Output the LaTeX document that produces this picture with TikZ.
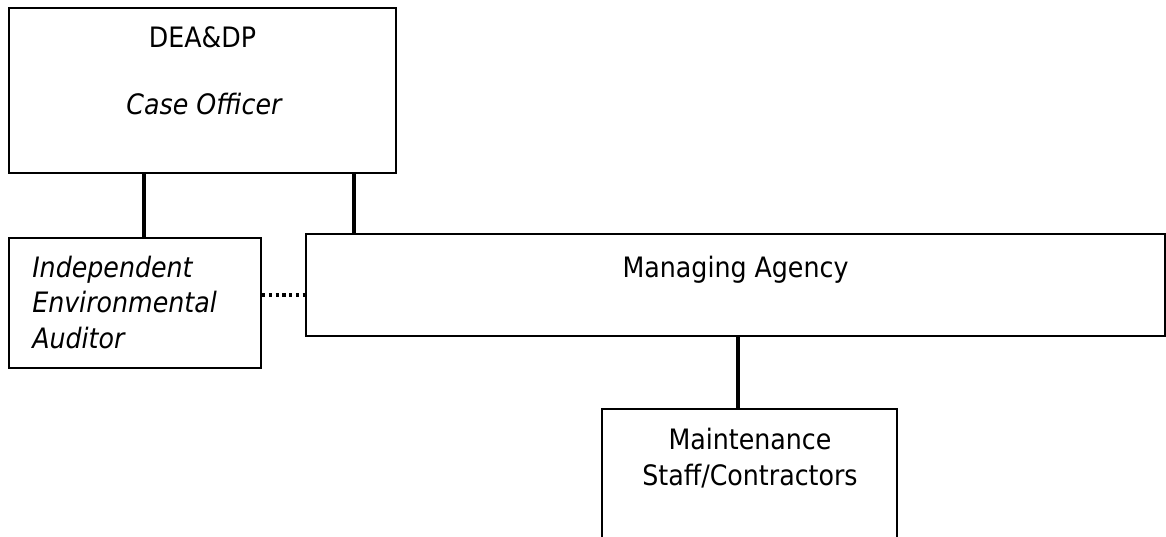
\documentclass[tikz,border=0pt]{standalone}
\usepackage{fontspec}
\setmainfont{DejaVu Sans Condensed}
\usepackage{tikz}

\begin{document}
\begin{tikzpicture}[
  every node/.style={font=\fontsize{20pt}{24.9pt}\selectfont},
  box/.style={draw, line width=1.6pt, inner sep=0pt},
  lbl/.style={inner sep=0pt},
  link/.style={line width=2.6pt},
  dotlink/.style={line width=2.3pt, dash pattern=on 2.3pt off 2.5pt}
]

\useasboundingbox (0,0) rectangle (29.15,-13.425);

\node[box, minimum width=9.675cm, minimum height=4.125cm] (dea) at (5.0625,-2.2625) {};
\node[box, minimum width=6.3cm, minimum height=3.25cm] (iea) at (3.375,-7.575) {};
\node[box, minimum width=21.475cm, minimum height=2.55cm] (ma) at (18.3875,-7.125) {};
\node[box, minimum width=7.375cm, minimum height=4cm] (ms) at (18.7375,-12.225) {};

\node[lbl, anchor=base] (deaname) at (5.0625,-1.2) {DEA\&DP};
\node[lbl, anchor=base] (deaofficer) at (5.1,-2.875) {\itshape Case Officer};
\node[lbl, anchor=base west, align=left, font=\fontsize{20pt}{24.9pt}\selectfont\itshape] (ieaname) at (0.8,-8.7) {Independent\\Environmental\\Auditor};
\node[lbl, anchor=base] (maname) at (18.39,-6.925) {Managing Agency};
\node[lbl, anchor=base, align=center] (msname) at (18.75,-12.125) {Maintenance\\Staff/Contractors};

\coordinate (ieatop) at ([xshift=0.225cm]iea.north);
\coordinate (matop) at ([xshift=1.225cm]ma.north west);
\coordinate (mstop) at ([xshift=-0.29cm]ms.north);
\coordinate (dotend) at ([yshift=0.2cm]iea.east);

\draw[link] (ieatop) -- (ieatop |- dea.south);
\draw[link] (matop) -- (matop |- dea.south);
\draw[link] (mstop) -- (mstop |- ma.south);
\draw[dotlink] (dotend) -- (dotend -| ma.west);

\end{tikzpicture}
\end{document}
